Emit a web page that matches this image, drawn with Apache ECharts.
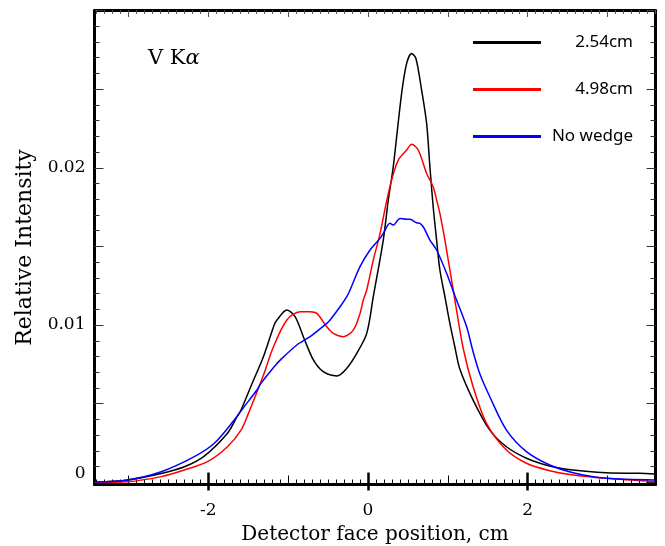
<!DOCTYPE html>
<html>
<head>
<meta charset="utf-8">
<script src="https://cdn.jsdelivr.net/npm/echarts@6/dist/echarts.min.js"></script>
<style>html,body{margin:0;padding:0;background:#fff;}#c{width:665px;height:546px;}</style>
</head>
<body>
<div id="c"></div>
<script>
// ---- data ----
const seriesNames = ['2.54cm', '4.98cm', 'No wedge'];
const blackX = [-3.42,-3.01,-2.59,-2.30,-2.05,-1.76,-1.64,-1.59,-1.475,-1.425,-1.31,-1.175,-1.14,-1.016,-0.913,-0.81,-0.684,-0.56,-0.39,-0.266,-0.141,-0.016,0.066,0.191,0.254,0.316,0.421,0.484,0.546,0.600,0.671,0.734,0.775,0.816,0.859,0.900,0.963,1.025,1.088,1.150,1.316,1.525,1.734,1.984,2.275,2.566,2.984,3.400,3.590];
const blackY = [0.00000,0.00015,0.00056,0.00099,0.00167,0.00312,0.00417,0.00460,0.00600,0.00660,0.00798,0.01000,0.01032,0.01095,0.01053,0.00926,0.00778,0.00703,0.00676,0.00725,0.00820,0.00947,0.01180,0.01540,0.01795,0.02006,0.02473,0.02664,0.02727,0.02695,0.02494,0.02282,0.02006,0.01752,0.01540,0.01350,0.01180,0.01010,0.00860,0.00720,0.00523,0.00332,0.00226,0.00153,0.00104,0.00078,0.00061,0.00057,0.00053];
const redX = [-3.42,-3.01,-2.59,-2.30,-2.01,-1.76,-1.59,-1.496,-1.425,-1.309,-1.184,-1.016,-0.850,-0.725,-0.641,-0.516,-0.434,-0.309,-0.184,-0.100,-0.059,-0.016,0.066,0.150,0.230,0.300,0.379,0.484,0.546,0.629,0.734,0.816,0.859,0.900,0.963,1.088,1.191,1.316,1.484,1.734,1.984,2.275,2.566,2.984,3.590];
const redY = [0.00000,0.00004,0.00036,0.00078,0.00131,0.00226,0.00332,0.00440,0.00530,0.00682,0.00862,0.01032,0.01085,0.01085,0.01074,0.00989,0.00947,0.00926,0.00968,0.01074,0.01159,0.01223,0.01413,0.01580,0.01780,0.01930,0.02049,0.02113,0.02150,0.02113,0.01964,0.01879,0.01795,0.01710,0.01540,0.01159,0.00854,0.00608,0.00375,0.00205,0.00121,0.00074,0.00046,0.00025,0.00004];
const blueX = [-3.42,-3.01,-2.59,-2.175,-1.925,-1.675,-1.55,-1.391,-1.341,-1.175,-1.10,-0.891,-0.725,-0.516,-0.475,-0.35,-0.266,-0.225,-0.10,0.025,0.15,0.191,0.275,0.316,0.40,0.484,0.525,0.609,0.65,0.691,0.734,0.775,0.859,0.984,1.10,1.234,1.316,1.40,1.525,1.734,1.984,2.275,2.566,2.984,3.59];
const blueY = [0.00002,0.00015,0.00067,0.00163,0.00248,0.00396,0.00481,0.00587,0.00629,0.00735,0.00777,0.00873,0.00926,0.01011,0.01032,0.01116,0.01180,0.01223,0.01371,0.01477,0.01551,0.01583,0.01647,0.01636,0.01678,0.01672,0.01672,0.01650,0.01647,0.01625,0.01583,0.01540,0.01477,0.01329,0.01170,0.00990,0.00830,0.00690,0.00544,0.00332,0.00195,0.00110,0.00061,0.00025,0.00015];
const xLabelValues = [-2, 0, 2];
const yLabelValues = [0.01, 0.02];
const yZeroLabel = [0];
const xMidTicks = [-3, -2, -1, 0, 1, 2, 3];
const yMidTicks = [0, 0.005, 0.01, 0.015, 0.02, 0.025, 0.03];
const xMinorTicks = []; for (let i = -34; i <= 36; i++) xMinorTicks.push(+(i / 10).toFixed(1));
const yMinorTicks = []; for (let i = 0; i <= 30; i++) yMinorTicks.push(+(i / 1000).toFixed(3));

const XMIN = -3.425, XMAX = 3.6, YMIN = -0.00014, YMAX = 0.03;
const serif = 'DejaVu Serif';

function pairs(xs, ys) { return xs.map((x, i) => [x, ys[i]]); }

const hiddenLine = { show: false, onZero: false };
function xAx(pos, o) {
  return Object.assign({
    type: 'value', position: pos, min: XMIN, max: XMAX, gridIndex: 0,
    axisLine: hiddenLine, splitLine: { show: false },
    axisTick: { show: false }, axisLabel: { show: false }
  }, o);
}
function yAx(pos, o) {
  return Object.assign({
    type: 'value', position: pos, min: YMIN, max: YMAX, gridIndex: 0,
    axisLine: hiddenLine, splitLine: { show: false },
    axisTick: { show: false }, axisLabel: { show: false }
  }, o);
}
const frame = { show: true, onZero: false, lineStyle: { color: '#000', width: 3 } };

const chart = echarts.init(document.getElementById('c'), null, { renderer: 'canvas' });
chart.setOption({
  animation: false,
  backgroundColor: '#fff',
  grid: { left: 94.5, right: 9.5, top: 10.5, bottom: 61.5, containLabel: false, outerBoundsMode: 'none' },
  title: {
    text: '{n|V K}{i|α}', left: 143, top: 43,
    textStyle: { fontWeight: 'normal', rich: {
      n: { fontFamily: serif, fontSize: 21, fontWeight: 'normal', color: '#000' },
      i: { fontFamily: serif, fontSize: 21, fontWeight: 'normal', fontStyle: 'italic', color: '#000' }
    } }
  },
  legend: {
    orient: 'vertical', left: 468, top: 29, itemWidth: 68, itemHeight: 3, itemGap: 30,
    icon: 'rect', data: seriesNames,
    formatter: n => '{t|' + n + '}',
    textStyle: { rich: { t: { width: 87, align: 'right', fontFamily: 'Noto Sans', fontSize: 17, color: '#000', lineHeight: 20 } } }
  },
  xAxis: [
    xAx('bottom', {
      axisLine: frame,
      axisTick: { show: true, inside: true, length: 5, customValues: xMinorTicks, lineStyle: { color: '#000', width: 1 } },
      axisLabel: { show: true, customValues: xLabelValues, margin: 18, fontFamily: serif, fontSize: 17, color: '#000',
        formatter: v => String(Math.round(v)) },
      name: 'Detector face position, cm', nameLocation: 'middle', nameGap: 38,
      nameTextStyle: { fontFamily: serif, fontSize: 20, color: '#000' }
    }),
    xAx('bottom', { axisTick: { show: true, inside: true, length: 9, customValues: xMidTicks, lineStyle: { color: '#000', width: 1 } } }),
    xAx('bottom', { axisTick: { show: true, inside: true, length: 12, customValues: xLabelValues, lineStyle: { color: '#000', width: 2.5 } } }),
    xAx('bottom', { axisTick: { show: true, inside: false, length: 6, customValues: xLabelValues, lineStyle: { color: '#000', width: 2.5 } } }),
    xAx('top', {
      axisLine: frame,
      axisTick: { show: true, inside: true, length: 3.5, customValues: xMinorTicks, lineStyle: { color: '#555', width: 1 } }
    }),
    xAx('top', { axisTick: { show: true, inside: true, length: 6.5, customValues: xMidTicks, lineStyle: { color: '#555', width: 1 } } })
  ],
  yAxis: [
    yAx('left', {
      axisLine: frame,
      axisTick: { show: true, inside: true, length: 5, customValues: yMinorTicks, lineStyle: { color: '#333', width: 1 } },
      axisLabel: { show: true, customValues: yLabelValues, margin: 9, padding: [0, 0, 6, 0], fontFamily: serif, fontSize: 17, color: '#000',
        formatter: v => v.toFixed(2) },
      name: 'Relative Intensity', nameLocation: 'middle', nameGap: 57,
      nameTextStyle: { fontFamily: serif, fontSize: 22, color: '#000' }
    }),
    yAx('left', { axisTick: { show: true, inside: true, length: 9, customValues: yMidTicks, lineStyle: { color: '#333', width: 1 } } }),
    yAx('left', { axisLabel: { show: true, customValues: yZeroLabel, margin: 9, verticalAlign: 'bottom', fontFamily: serif, fontSize: 17, color: '#000',
        formatter: v => '0' } }),
    yAx('right', {
      axisLine: frame,
      axisTick: { show: true, inside: true, length: 5, customValues: yMinorTicks, lineStyle: { color: '#333', width: 1 } }
    }),
    yAx('right', { axisTick: { show: true, inside: true, length: 9, customValues: yMidTicks, lineStyle: { color: '#333', width: 1 } } })
  ],
  series: [
    { name: seriesNames[0], type: 'line', data: pairs(blackX, blackY), color: '#000000', showSymbol: false, smooth: 0.3, lineStyle: { width: 1.5 } },
    { name: seriesNames[1], type: 'line', data: pairs(redX, redY), color: '#ff0000', showSymbol: false, smooth: 0.3, lineStyle: { width: 1.5 } },
    { name: seriesNames[2], type: 'line', data: pairs(blueX, blueY), color: '#0000ff', showSymbol: false, smooth: 0.3, lineStyle: { width: 1.5 } }
  ]
});
</script>
</body>
</html>
